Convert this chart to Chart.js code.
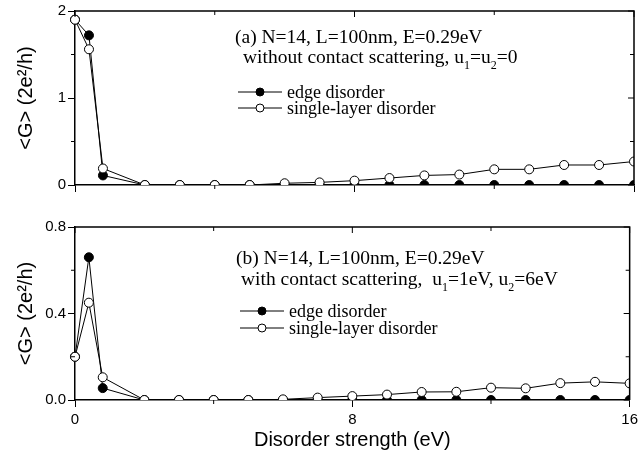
<!DOCTYPE html>
<html>
<head>
<meta charset="utf-8">
<script src="https://cdn.jsdelivr.net/npm/chart.js@4.4.1/dist/chart.umd.min.js"></script>
<style>
  html, body { margin: 0; padding: 0; background: #fff; }
  #wrap { position: relative; width: 642px; height: 462px; }
  .panel { position: absolute; left: 0; width: 642px; }
  #top { top: 0; height: 205px; }
  #bot { top: 205px; height: 257px; }
</style>
</head>
<body>
<div id="wrap">
  <div class="panel" id="top"><canvas id="chartA"></canvas></div>
  <div class="panel" id="bot"><canvas id="chartB"></canvas></div>
</div>
<script>
// disorder strength (eV)
const strength = [0, 0.4, 0.8, 2, 3, 4, 5, 6, 7, 8, 9, 10, 11, 12, 13, 14, 15, 16];

// (a) without contact scattering
const edgeA   = [1.90, 1.72, 0.11, 0, 0, 0, 0, 0, 0, 0, 0, 0, 0, 0, 0, 0, 0, 0];
const singleA = [1.90, 1.56, 0.19, 0, 0, 0, 0, 0.02, 0.03, 0.05, 0.08, 0.11, 0.12, 0.18, 0.18, 0.23, 0.23, 0.27];

// (b) with contact scattering
const edgeB   = [0.20, 0.66, 0.055, 0, 0, 0, 0, 0, 0, 0, 0, 0, 0, 0, 0, 0, 0, 0];
const singleB = [0.20, 0.45, 0.105, 0, 0, 0, 0, 0.003, 0.011, 0.018, 0.025, 0.037, 0.038, 0.057, 0.054, 0.078, 0.084, 0.077];

// axis ticks
const xTicks  = [0, 8, 16];
const xMinor  = [4, 12];
const yTicksA = [0, 1, 2];
const yMinorA = [0.5, 1.5];
const yTicksB = [0, 0.4, 0.8];
const yMinorB = [0.2, 0.6];

const legendNames = ['edge disorder', 'single-layer disorder'];

const SERIF = '"Liberation Serif", "Times New Roman", serif';
const SANS = '"Liberation Sans", Arial, sans-serif';

function pts(ys) {
  return strength.map((x, i) => ({ x: x, y: ys[i] }));
}

// text with _1 style subscripts
function drawRich(ctx, str, x, y, size) {
  const parts = str.split(/_(\d)/);
  parts.forEach((p, i) => {
    const sub = i % 2 === 1;
    ctx.font = (sub ? Math.round(size * 0.62) : size) + 'px ' + SERIF;
    ctx.fillText(p, x, sub ? y + size * 0.3 : y);
    x += ctx.measureText(p).width;
  });
}

// frame, minor ticks, annotation text and legend
const panelPlugin = {
  id: 'panel',
  afterDatasetsDraw(chart, args, opts) {
    const ctx = chart.ctx;
    const a = chart.chartArea;
    const xs = chart.scales.x, ys = chart.scales.y;
    ctx.save();
    ctx.strokeStyle = '#000';
    ctx.lineWidth = 1.5;
    ctx.beginPath();
    ctx.moveTo(a.left, a.top); ctx.lineTo(a.right, a.top); ctx.lineTo(a.right, a.bottom);
    ctx.stroke();
    ctx.lineWidth = 1;
    ctx.beginPath();
    xMinor.forEach(v => {
      const px = xs.getPixelForValue(v);
      ctx.moveTo(px, a.bottom); ctx.lineTo(px, a.bottom + 4);
    });
    xTicks.concat(xMinor).forEach(v => {
      const px = xs.getPixelForValue(v);
      ctx.moveTo(px, a.top); ctx.lineTo(px, a.top + (xMinor.includes(v) ? 4 : 6));
    });
    opts.yMinor.forEach(v => {
      const py = ys.getPixelForValue(v);
      ctx.moveTo(a.left - 4, py); ctx.lineTo(a.left, py);
    });
    opts.yTicks.concat(opts.yMinor).forEach(v => {
      const py = ys.getPixelForValue(v);
      ctx.moveTo(a.right, py); ctx.lineTo(a.right - (opts.yMinor.includes(v) ? 4 : 6), py);
    });
    ctx.stroke();

    ctx.fillStyle = '#000';
    ctx.textAlign = 'left';
    ctx.textBaseline = 'alphabetic';
    opts.rows.forEach(r => drawRich(ctx, r.text, r.x, r.y, 19.5));

    const lg = opts.legend;
    legendNames.forEach((name, i) => {
      const ds = chart.data.datasets.find(d => d.label === name);
      const y = lg.y[i];
      ctx.strokeStyle = ds.borderColor;
      ctx.lineWidth = 1;
      ctx.beginPath();
      ctx.moveTo(lg.x - 22, y); ctx.lineTo(lg.x + 22, y);
      ctx.stroke();
      ctx.beginPath();
      ctx.arc(lg.x, y, 4, 0, Math.PI * 2);
      ctx.fillStyle = ds.pointBackgroundColor;
      ctx.fill();
      ctx.stroke();
      ctx.fillStyle = '#000';
      ctx.font = '18px ' + SERIF;
      ctx.textBaseline = 'middle';
      ctx.fillText(name, lg.textX, y + 1);
    });
    ctx.restore();
  }
};

function makeChart(id, edge, single, yTicks, yMinor, cfg) {
  const common = {
    borderColor: '#000',
    borderWidth: 1,
    pointRadius: 4.5,
    pointBorderWidth: 1,
    pointBorderColor: '#000',
    tension: 0,
    clip: { left: 10, top: 10, right: 0, bottom: 0 }
  };
  return new Chart(document.getElementById(id), {
    type: 'line',
    data: {
      datasets: [
        Object.assign({ label: legendNames[1], data: pts(single), pointBackgroundColor: '#fff', backgroundColor: '#fff' }, common),
        Object.assign({ label: legendNames[0], data: pts(edge), pointBackgroundColor: '#000', backgroundColor: '#000' }, common)
      ]
    },
    options: {
      responsive: true,
      maintainAspectRatio: false,
      animation: false,
      events: [],
      layout: { autoPadding: false, padding: { top: cfg.padTop, right: 8, left: 0, bottom: 0 } },
      plugins: {
        legend: { display: false },
        tooltip: { enabled: false },
        panel: { yTicks: yTicks, yMinor: yMinor, rows: cfg.rows, legend: cfg.legend }
      },
      scales: {
        x: {
          type: 'linear',
          min: 0,
          max: 16,
          afterBuildTicks: s => { s.ticks = xTicks.map(v => ({ value: v })); },
          afterFit: s => { s.height = cfg.xHeight; },
          grid: { drawOnChartArea: false, drawTicks: true, tickLength: 7, color: '#000' },
          border: { color: '#000', width: 1.5 },
          ticks: { display: cfg.xLabels, color: '#000', padding: 4, font: { family: SANS, size: 15 }, maxRotation: 0 },
          title: {
            display: cfg.xLabels,
            text: 'Disorder strength (eV)',
            color: '#000',
            font: { family: SANS, size: 20 },
            padding: { top: 0, bottom: 10 }
          }
        },
        y: {
          min: 0,
          max: yTicks[yTicks.length - 1],
          afterBuildTicks: s => { s.ticks = yTicks.map(v => ({ value: v })); },
          afterFit: s => { s.width = 75; },
          grid: { drawOnChartArea: false, drawTicks: true, tickLength: 7, color: '#000' },
          border: { color: '#000', width: 1.5 },
          ticks: {
            color: '#000',
            padding: 2,
            font: { family: SANS, size: 15 },
            callback: v => cfg.yFmt(v)
          },
          title: {
            display: true,
            text: '<G> (2e\u00B2/h)',
            color: '#000',
            font: { family: SANS, size: 20 },
            padding: { top: 14, bottom: 0 }
          }
        }
      }
    },
    plugins: [panelPlugin]
  });
}

makeChart('chartA', edgeA, singleA, yTicksA, yMinorA, {
  padTop: 10,
  xHeight: 20,
  xLabels: false,
  yFmt: v => String(v),
  rows: [
    { text: '(a) N=14, L=100nm, E=0.29eV', x: 235, y: 43 },
    { text: 'without contact scattering, u_1=u_2=0', x: 243, y: 63 }
  ],
  legend: { x: 260, y: [92, 108], textX: 287 }
});

makeChart('chartB', edgeB, singleB, yTicksB, yMinorB, {
  padTop: 22,
  xHeight: 62,
  xLabels: true,
  yFmt: v => v.toFixed(1),
  rows: [
    { text: '(b) N=14, L=100nm, E=0.29eV', x: 236, y: 59 },
    { text: 'with contact scattering,  u_1=1eV, u_2=6eV', x: 241, y: 80 }
  ],
  legend: { x: 262, y: [106, 123], textX: 289 }
});
</script>
</body>
</html>
